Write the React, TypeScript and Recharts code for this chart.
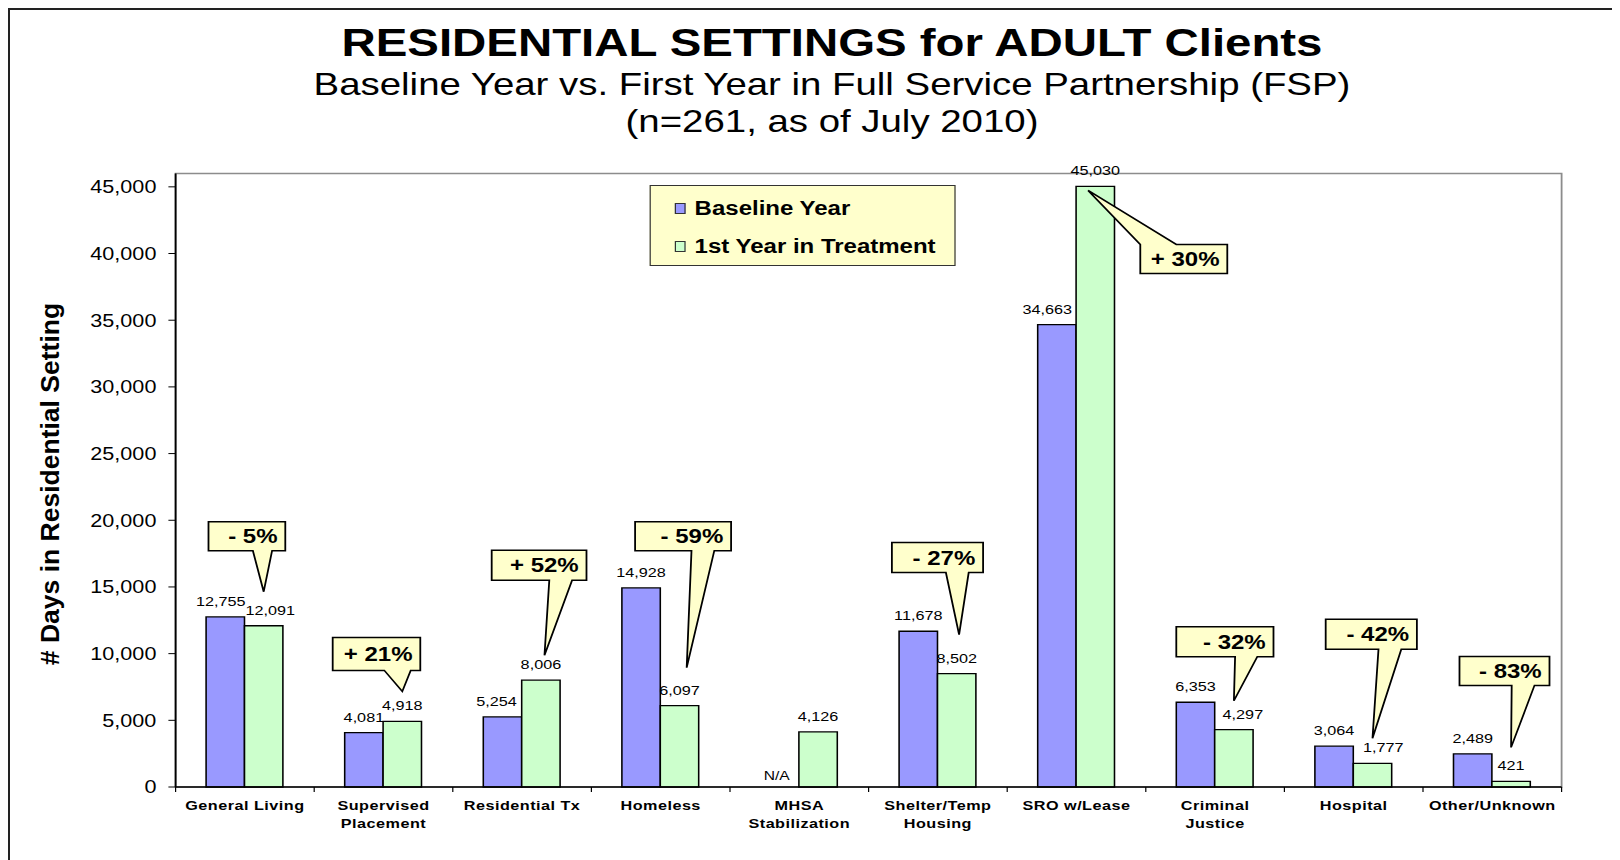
import { BarChart, Bar, XAxis, YAxis, LabelList, ReferenceArea } from "recharts";

const CATEGORIES = [
    "General Living",
    "Supervised\nPlacement",
    "Residential Tx",
    "Homeless",
    "MHSA\nStabilization",
    "Shelter/Temp\nHousing",
    "SRO w/Lease",
    "Criminal\nJustice",
    "Hospital",
    "Other/Unknown",
];
const BASELINE: (number | null)[] = [12755, 4081, 5254, 14928, null, 11678, 34663, 6353, 3064, 2489];
const FIRST_YEAR = [12091, 4918, 8006, 6097, 4126, 8502, 45030, 4297, 1777, 421];
const CHANGE: (string | null)[] = ["- 5%", "+ 21%", "+ 52%", "- 59%", null, "- 27%", "+ 30%", "- 32%", "- 42%", "- 83%"];
const Y_TICKS = [0, 5000, 10000, 15000, 20000, 25000, 30000, 35000, 40000, 45000];
const Y_MAX = 46000;

// sideways nudges of the value labels, as in the original
const BASE_LABEL_DX = [-3.75, 0, -5, 0, 0, 0, -8, 0, 0, 0];
const GREEN_LABEL_DX = [5.5, 0, 0, 0, 0, 0, 0, 7.5, 9, 0];

// callout shapes, relative to the top centre of the green bar: [left, right, top, bottom]
const CALLOUT_BOX: (number[] | null)[] = [
    [-46, 18, -104, -75],
    [-58, 15, -84, -51],
    [-41, 38, -130, -100],
    [-37, 43, -184, -155],
    null,
    [-54, 22, -131, -101],
    [37.5, 110, 58, 87],
    [-48, 33, -103, -73],
    [-39, 37, -144, -114],
    [-43, 32, -125, -96],
];
// where the pointer leaves the box edge [from, to]
const CALLOUT_BASE: (number[] | null)[] = [
    [-9, 7], [-15, 7], [7, 26], [10, 29], null, [-9, 10], [37.5, 67.5], [1, 19.5], [5, 24], [0.5, 19.5],
];
// pointer tip [dx, dy]
const CALLOUT_TIP: (number[] | null)[] = [
    [0, -34], [0, -30], [3, -25], [6, -38], null, [2, -39], [-6, 4], [0, -29], [0, -25], [0, -34],
];

const FONT = "'Liberation Sans', Arial, Helvetica, sans-serif";
const BLUE = "#9999FF";
const GREEN = "#CCFFCC";
const NOTE = "#FFFFCC";

// the original picture is stretched sideways, so the chart is drawn narrow and scaled
const STRETCH = 1.2;
const CHART_W = 1342;
const CHART_H = 850;
const MARGIN = { top: 163.5, right: 49, bottom: 13, left: 0 };
const Y_AXIS_W = 138;
const BAND = (CHART_W - MARGIN.left - MARGIN.right - Y_AXIS_W) / CATEGORIES.length;

const data = CATEGORIES.map((name, i) => ({
    name,
    baseline: BASELINE[i],
    firstYear: FIRST_YEAR[i],
}));

const fmt = (v: unknown) => (v == null ? "" : Number(v).toLocaleString("en-US"));

function CategoryTick(props: any) {
    const { x, y, payload, index } = props;
    const lines = String(payload.value).split("\n");
    const last = index === CATEGORIES.length - 1;
    return (
        <g>
            <line x1={x - BAND / 2} x2={x - BAND / 2} y1={y} y2={y + 5} stroke="#000" />
            {last && <line x1={x + BAND / 2} x2={x + BAND / 2} y1={y} y2={y + 5} stroke="#000" />}
            <text
                x={x}
                y={y + 23}
                textAnchor="middle"
                fontFamily={FONT}
                fontSize={13.5}
                fontWeight="bold"
                letterSpacing={0.4}
                fill="#000"
            >
                {lines.map((l, i) => (
                    <tspan key={i} x={x} dy={i === 0 ? 0 : 18}>
                        {l}
                    </tspan>
                ))}
            </text>
        </g>
    );
}

// value label; the category is looked up from the value, since empty bars are skipped
function valueLabel(series: (number | null)[], shifts: number[]) {
    return (props: any) => {
        const v = props.value;
        if (v == null) return null;
        const index = series.indexOf(Number(v));
        const { x, y, width } = props.viewBox ?? props;
        return (
            <text
                x={x + width / 2 + (shifts[index] ?? 0)}
                y={y - 11}
                textAnchor="middle"
                fontFamily={FONT}
                fontSize={13.5}
                fill="#000"
            >
                {fmt(v)}
            </text>
        );
    };
}

function Callout(props: any) {
    const index = FIRST_YEAR.indexOf(Number(props.value));
    const vb = props.viewBox ?? props;
    const { x, y, width, height } = vb;
    const cx = x + width / 2;
    const parts = [];

    // no baseline value for this setting
    if (BASELINE[index] == null) {
        parts.push(
            <text key="na" x={x - width / 2 - 2.5} y={y + height - 7} textAnchor="middle"
                fontFamily={FONT} fontSize={13} fill="#000">
                N/A
            </text>,
        );
    }

    const text = CHANGE[index];
    const box = CALLOUT_BOX[index];
    const base = CALLOUT_BASE[index];
    const tip = CALLOUT_TIP[index];
    if (text && box && base && tip) {
        const [l, r, t, b] = box;
        const X = (v: number) => cx + v;
        const Y = (v: number) => y + v;
        const d =
            tip[1] < t
                ? `M${X(l)},${Y(t)} L${X(base[0])},${Y(t)} L${X(tip[0])},${Y(tip[1])} L${X(base[1])},${Y(t)} L${X(r)},${Y(t)} L${X(r)},${Y(b)} L${X(l)},${Y(b)} Z`
                : `M${X(l)},${Y(t)} L${X(r)},${Y(t)} L${X(r)},${Y(b)} L${X(base[1])},${Y(b)} L${X(tip[0])},${Y(tip[1])} L${X(base[0])},${Y(b)} L${X(l)},${Y(b)} Z`;
        parts.push(
            <g key="callout">
                <path d={d} fill={NOTE} stroke="#000" strokeWidth={1.5} strokeLinejoin="miter" />
                <text x={X(r) - 6.5} y={Y((t + b) / 2) + 7} textAnchor="end"
                    fontFamily={FONT} fontSize={20} fontWeight="bold" fill="#000">
                    {text}
                </text>
            </g>,
        );
    }
    return <g>{parts}</g>;
}

export default function App() {
    return (
        <div
            style={{
                position: "relative",
                width: 1612,
                height: 852,
                boxSizing: "border-box",
                borderLeft: "2px solid #222",
                borderTop: "2px solid #222",
                background: "#fff",
                fontFamily: FONT,
                overflow: "hidden",
            }}
        >
            {/* Y axis title (kept unstretched) */}
            <div
                style={{
                    position: "absolute",
                    left: 40,
                    top: 474,
                    transform: "translate(-50%, -50%) rotate(-90deg)",
                    whiteSpace: "nowrap",
                    fontSize: 26.5,
                    fontWeight: "bold",
                    color: "#000",
                }}
            >
                # Days in Residential Setting
            </div>

            <div
                style={{
                    position: "absolute",
                    left: 0,
                    top: 0,
                    width: CHART_W,
                    height: CHART_H,
                    transform: `scaleX(${STRETCH})`,
                    transformOrigin: "0 0",
                }}
            >
                <svg width={CHART_W} height={140} style={{ position: "absolute", left: 0, top: 0 }}>
                    <text x={685} y={46} textAnchor="middle" fontFamily={FONT} fontSize={39.5} fontWeight="bold" fill="#000">
                        RESIDENTIAL SETTINGS for ADULT Clients
                    </text>
                    <text x={685} y={85} textAnchor="middle" fontFamily={FONT} fontSize={32} fill="#000">
                        Baseline Year vs. First Year in Full Service Partnership (FSP)
                    </text>
                    <text x={685} y={122} textAnchor="middle" fontFamily={FONT} fontSize={32} fill="#000">
                        (n=261, as of July 2010)
                    </text>
                </svg>

                <BarChart
                    width={CHART_W}
                    height={CHART_H}
                    data={data}
                    margin={MARGIN}
                    barCategoryGap="22%"
                    barGap={0}
                    style={{ position: "absolute", left: 0, top: 0 }}
                >
                    <ReferenceArea y1={0} y2={Y_MAX} fill="none" stroke="#8c8c8c" strokeWidth={1.5} ifOverflow="visible" />
                    <XAxis
                        dataKey="name"
                        interval={0}
                        height={60}
                        tickLine={false}
                        tickSize={0}
                        tickMargin={0}
                        axisLine={{ stroke: "#000", strokeWidth: 1.5 }}
                        tick={<CategoryTick />}
                    />
                    <YAxis
                        width={Y_AXIS_W}
                        domain={[0, Y_MAX]}
                        ticks={Y_TICKS}
                        tickFormatter={fmt}
                        tickSize={6}
                        tickMargin={10}
                        axisLine={{ stroke: "#000", strokeWidth: 1.5 }}
                        tickLine={{ stroke: "#000" }}
                        tick={{ fontSize: 18, fill: "#000", fontFamily: FONT }}
                    />
                    <Bar dataKey="baseline" fill={BLUE} stroke="#000" strokeWidth={1.3} isAnimationActive={false}>
                        <LabelList dataKey="baseline" content={valueLabel(BASELINE, BASE_LABEL_DX)} />
                    </Bar>
                    <Bar dataKey="firstYear" fill={GREEN} stroke="#000" strokeWidth={1.3} isAnimationActive={false}>
                        <LabelList dataKey="firstYear" content={valueLabel(FIRST_YEAR, GREEN_LABEL_DX)} />
                        <LabelList dataKey="firstYear" content={<Callout />} />
                    </Bar>
                </BarChart>

                {/* legend */}
                <div
                    style={{
                        position: "absolute",
                        left: 532.5,
                        top: 175,
                        width: 255,
                        height: 81,
                        boxSizing: "border-box",
                        background: NOTE,
                        border: "1px solid #333",
                        fontSize: 20,
                        fontWeight: "bold",
                        color: "#000",
                    }}
                >
                    {[
                        { label: "Baseline Year", color: BLUE, top: 22 },
                        { label: "1st Year in Treatment", color: GREEN, top: 60 },
                    ].map((it) => (
                        <div
                            key={it.label}
                            style={{
                                position: "absolute",
                                left: 20,
                                top: it.top,
                                transform: "translateY(-50%)",
                                display: "flex",
                                alignItems: "center",
                                whiteSpace: "nowrap",
                                lineHeight: "22px",
                            }}
                        >
                            <span
                                style={{
                                    display: "inline-block",
                                    width: 9.5,
                                    height: 11,
                                    boxSizing: "border-box",
                                    background: it.color,
                                    border: "1px solid #333",
                                    marginRight: 7.5,
                                }}
                            />
                            {it.label}
                        </div>
                    ))}
                </div>
            </div>
        </div>
    );
}
